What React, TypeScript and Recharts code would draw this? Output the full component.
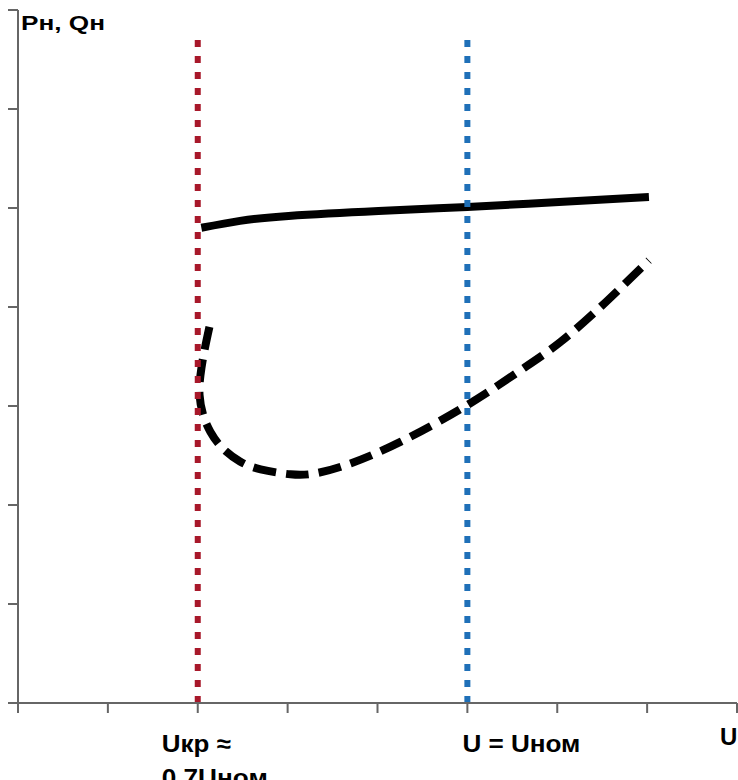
import { LineChart, Line, XAxis, YAxis } from "recharts";

// U values (axis units) and load curves
const pU = [2.04, 2.47, 3.01, 4.01, 5.0, 6.02, 7.02];
const pLoad = [4.8, 4.87, 4.92, 4.97, 5.01, 5.06, 5.11];

const qU = [2.13, 2.07, 2.03, 2.02, 2.06, 2.14, 2.27, 2.47, 2.7, 3.03, 3.31, 3.7, 4.26, 5.0, 5.59, 6.04, 6.54, 7.02];
const qLoad = [3.8, 3.54, 3.31, 3.11, 2.91, 2.74, 2.58, 2.44, 2.36, 2.31, 2.32, 2.42, 2.64, 3.01, 3.36, 3.65, 4.05, 4.47];

const uCrit = 2;
const uNom = 5;
const markerTop = 6.72;

const xTicks = [0, 1, 2, 3, 4, 5, 6, 7, 8];
const yTicks = [0, 1, 2, 3, 4, 5, 6, 7];

const pData = pU.map((x, i) => ({ x, y: pLoad[i] }));
const qData = qU.map((x, i) => ({ x, y: qLoad[i] }));
const critData = [
  { x: uCrit, y: 0 },
  { x: uCrit, y: markerTop },
];
const nomData = [
  { x: uNom, y: 0 },
  { x: uNom, y: markerTop },
];

const font = "'Liberation Sans', Arial, sans-serif";

function UTick(props: any) {
  const { x, y, payload } = props;
  if (payload.value === uCrit) {
    return (
      <g fontFamily={font} fontWeight="bold" fontSize={24} fill="#000">
        <text x={x - 36} y={y + 37} textLength={69} lengthAdjust="spacingAndGlyphs">
          Uкр ≈
        </text>
        <text x={x - 36} y={y + 71} textLength={106} lengthAdjust="spacingAndGlyphs">
          0.7Uном
        </text>
      </g>
    );
  }
  if (payload.value === uNom) {
    return (
      <text
        x={x - 5}
        y={y + 37}
        fontFamily={font}
        fontWeight="bold"
        fontSize={24}
        fill="#000"
        textLength={118}
        lengthAdjust="spacingAndGlyphs"
      >
        U = Uном
      </text>
    );
  }
  return <g />;
}

const NoLabel = () => <g />;

export default function App() {
  return (
    <div style={{ position: "absolute", left: 0, top: 0, background: "#fff" }}>
      <LineChart
        width={738}
        height={780}
        margin={{ top: 10, right: 1, bottom: 0, left: 0 }}
      >
        <XAxis
          type="number"
          dataKey="x"
          domain={[0, 8]}
          ticks={xTicks}
          height={77}
          tickSize={10}
          tick={UTick}
          interval={0}
          stroke="#666"
          strokeWidth={2}
          allowDataOverflow
          label={{
            content: (p: any) => (
              <text
                x={p.viewBox.x + p.viewBox.width - 17}
                y={p.viewBox.y + 42}
                fontFamily={font}
                fontWeight="bold"
                fontSize={24}
                fill="#000"
              >
                U
              </text>
            ),
          }}
        />
        <YAxis
          type="number"
          domain={[0, 7]}
          ticks={yTicks}
          width={18}
          tickSize={10}
          tick={NoLabel}
          interval={0}
          stroke="#666"
          strokeWidth={2}
          allowDataOverflow
          label={{
            content: (p: any) => (
              <text
                x={p.viewBox.x + p.viewBox.width + 3}
                y={p.viewBox.y + 20}
                fontFamily={font}
                fontWeight="bold"
                fontSize={20}
                fill="#000"
                textLength={84}
                lengthAdjust="spacingAndGlyphs"
              >
                Рн, Qн
              </text>
            ),
          }}
        />
        <Line
          data={pData}
          dataKey="y"
          type="natural"
          stroke="#000"
          strokeWidth={8}
          dot={false}
          activeDot={false}
          isAnimationActive={false}
        />
        <Line
          data={qData}
          dataKey="y"
          type="natural"
          stroke="#000"
          strokeWidth={8}
          strokeDasharray="23 10"
          dot={false}
          activeDot={false}
          isAnimationActive={false}
        />
        <Line
          data={critData}
          dataKey="y"
          type="linear"
          stroke="#a8182a"
          strokeWidth={6}
          strokeDasharray="7 9"
          dot={false}
          activeDot={false}
          isAnimationActive={false}
        />
        <Line
          data={nomData}
          dataKey="y"
          type="linear"
          stroke="#1f70b8"
          strokeWidth={6}
          strokeDasharray="7 9"
          dot={false}
          activeDot={false}
          isAnimationActive={false}
        />
      </LineChart>
    </div>
  );
}
